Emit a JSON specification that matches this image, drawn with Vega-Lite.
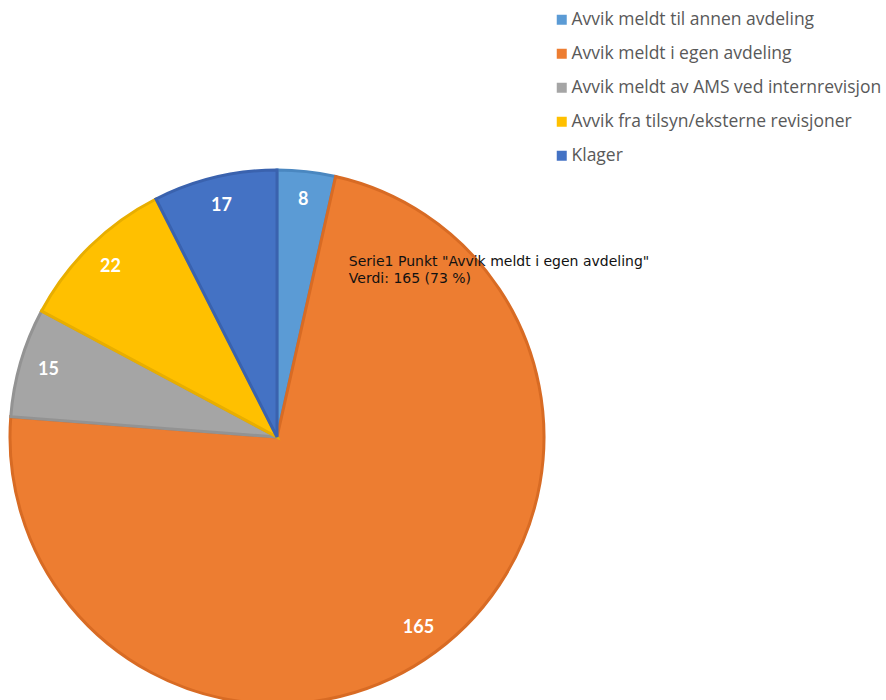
{
  "$schema": "https://vega.github.io/schema/vega-lite/v6.json",
  "width": 554,
  "height": 526,
  "autosize": {"type": "none"},
  "padding": {"left": 0, "top": 174, "right": 332, "bottom": 0},
  "background": "white",
  "config": {"view": {"stroke": null}},
  "layer": [
    {
      "data": {
        "values": [
          {"nr": 1, "kategori": "Avvik meldt til annen avdeling", "verdi": 8},
          {"nr": 2, "kategori": "Avvik meldt i egen avdeling", "verdi": 165},
          {"nr": 3, "kategori": "Avvik meldt av AMS ved internrevisjon", "verdi": 15},
          {"nr": 4, "kategori": "Avvik fra tilsyn/eksterne revisjoner", "verdi": 22},
          {"nr": 5, "kategori": "Klager", "verdi": 17}
        ]
      },
      "encoding": {
        "theta": {"field": "verdi", "type": "quantitative", "stack": true},
        "order": {"field": "nr", "type": "quantitative", "sort": "ascending"},
        "color": {
          "field": "kategori",
          "type": "nominal",
          "sort": ["Avvik meldt til annen avdeling", "Avvik meldt i egen avdeling", "Avvik meldt av AMS ved internrevisjon", "Avvik fra tilsyn/eksterne revisjoner", "Klager"],
          "scale": {
            "domain": ["Avvik meldt til annen avdeling", "Avvik meldt i egen avdeling", "Avvik meldt av AMS ved internrevisjon", "Avvik fra tilsyn/eksterne revisjoner", "Klager"],
            "range": ["#5B9BD5", "#ED7D31", "#A5A5A5", "#FFC000", "#4472C4"]
          },
          "legend": {
            "title": null,
            "orient": "none",
            "legendX": 553,
            "legendY": -163,
            "symbolType": "square",
            "symbolSize": 100,
            "symbolStrokeWidth": 0,
            "labelFont": "Open Sans",
            "labelFontSize": 17.5,
            "labelColor": "#595959",
            "labelOffset": 1,
            "rowPadding": 15,
            "labelLimit": 400
          }
        }
      },
      "layer": [
        {
          "mark": {"type": "arc", "outerRadius": 267, "strokeWidth": 3},
          "encoding": {
            "stroke": {
              "field": "kategori",
              "type": "nominal",
              "scale": {
                "domain": ["Avvik meldt til annen avdeling", "Avvik meldt i egen avdeling", "Avvik meldt av AMS ved internrevisjon", "Avvik fra tilsyn/eksterne revisjoner", "Klager"],
                "range": ["#4A87C0", "#D86B24", "#939393", "#E8AE00", "#3A62AE"]
              },
              "legend": null
            }
          }
        },
        {
          "mark": {"type": "text", "radius": 238, "font": "Lato", "fontWeight": "bold", "fontSize": 18, "fill": "white", "align": "center", "baseline": "middle"},
          "encoding": {
            "text": {"field": "verdi", "type": "quantitative"}
          }
        }
      ]
    },
    {
      "data": {"values": [{"linjer": ["Serie1 Punkt \"Avvik meldt i egen avdeling\"", "Verdi: 165 (73 %)"]}]},
      "mark": {"type": "text", "font": "DejaVu Sans", "fontSize": 14, "color": "#111111", "align": "left", "baseline": "middle", "radius": 189, "theta": 0.39, "lineHeight": 17},
      "encoding": {
        "text": {"field": "linjer"}
      }
    }
  ]
}
